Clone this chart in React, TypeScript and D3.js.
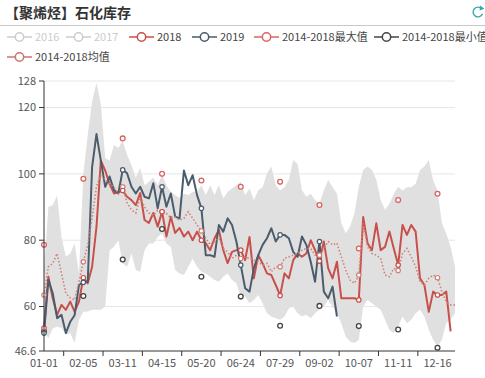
import React from "react";
import * as d3 from "d3";

// ---- data (index step = 35/9 days; label every 9 steps) ----
const xLabels = ["01-01", "02-05", "03-11", "04-15", "05-20", "06-24", "07-29", "09-02", "10-07", "11-11", "12-16"];
const yTicks = [46.6, 60, 80, 100, 120, 128];

const yr2018 = [
  53.5, 69, 62.5, 57.5, 60.5, 59, 61.5, 58.5, 61.5, 68.7,
  67, 72, 84, 104, 101, 97, 94.1, 94.5, 95, 93.1,
  92.1, 90.6, 94.2, 86.1, 85.2, 88.2, 84.1, 88.6, 81.1, 87.1,
  82.2, 83.7, 81.1, 82.6, 80, 82.6, 80, 79.1, 77, 80.6,
  83.1, 77, 73.1, 76.5, 77, 77, 74, 81, 68.5, 75.5,
  73, 70, 69.5, 66.5, 63.3, 70, 68.5, 74, 76, 75,
  76, 80, 77, 73.7, 79.6, 71.5, 68.5, 73.5, 62.5, 62.5,
  62.5, 62.5, 62, 87, 79.1, 77, 85.1, 77, 78, 82.6,
  77.5, 72.5, 84.6, 81.6, 84.6, 82.6, 68.5, 66.5, 58.4, 64.5,
  63.5, 63.5, 64.5, 52.5,
];

const yr2019 = [
  52, 68, 64, 56.5, 57.5, 52, 55.4, 57.4, 66.5, 67.3,
  67.5, 102, 112, 104, 96.1, 99.2, 95.1, 94.1, 101.2, 100.2,
  96.1, 94.1, 96.1, 93.1, 92.6, 97.2, 89.6, 96.1, 90.1, 94.1,
  87.1, 86.6, 101, 96.6, 99.6, 93.6, 89.6, 75.5, 75.5, 75,
  84.6, 82.6, 86.6, 84.6, 79.6, 72.5, 65.5, 64.5, 71.5, 75.5,
  78.6, 80.6, 83.6, 79.6, 81.6, 81.6, 80.6, 76.5, 75, 81.1,
  78.6, 73.5, 67.5, 79.6, 64.5, 62.5, 66, 57,
];

const meanVals = [
  63.5, 72, 73, 76, 70, 64, 62.6, 62, 67.5, 73.5,
  78.6, 86.6, 96.1, 100, 98.2, 97, 96, 94, 96.1, 91.2,
  89.2, 88.2, 93, 90, 88.2, 87.5, 89, 88.6, 88.1, 86.7,
  87, 86, 86.6, 88.6, 86.6, 84.6, 82.8, 80.6, 78.6, 79.6,
  80.6, 77.5, 76.5, 74.5, 75.5, 74.5, 75, 74.5, 74, 73.5,
  72.5, 73, 70.5, 72, 72, 74.5, 75, 75.5, 76, 77,
  77.5, 77.5, 75.5, 75.5, 77.5, 79.6, 78.6, 79.1, 75, 71,
  68, 67, 69.5, 85, 78, 76, 75.5, 74.5, 69.5, 69,
  71.5, 70.9, 76, 77.5, 75, 72, 67.5, 66.5, 68.5, 69.5,
  68.7, 64.5, 61.5, 60.5, 60.5,
];

const bandUpper = [
  71, 90, 90.6, 93.5, 81, 75, 76, 79, 70, 100,
  111.7, 121.8, 127.5, 121, 104.8, 104, 108.7, 107.8, 110, 105.7,
  102.7, 98.8, 101.8, 96.6, 97.6, 98.8, 96.6, 99.7, 96.6, 94.6,
  93.6, 92.7, 94, 93.6, 94.6, 94.6, 96.6, 93.6, 96.6, 93.6,
  96.6, 92.6, 94.6, 95.6, 96.6, 97.6, 93.6, 95.6, 92.1, 95.1,
  96, 100.2, 102.2, 96.6, 95.1, 96, 98.2, 104.2, 103, 95.1,
  93.1, 94, 92.1, 91.1, 95.1, 98.2, 96, 94.1, 85.1, 82.1,
  84.1, 88.1, 96.1, 101.2, 102.2, 101.2, 98.2, 92.1, 89.1, 91,
  94, 96.1, 95, 96, 96, 97, 101.2, 102.2, 104.2, 98,
  95, 85.1, 82, 78, 72,
];

const bandLower = [
  52, 50.5, 53.4, 54, 53.5, 51.5, 52, 49, 56, 58.4,
  58.5, 59, 59, 59, 60, 77, 78, 80, 73, 72,
  76, 71, 70.5, 77, 79, 79, 81, 82, 79, 78,
  71, 70, 69.5, 72, 74.5, 72, 70.5, 70, 69, 68,
  67.5, 69, 70, 68, 67, 63, 63, 61, 62, 63.5,
  61, 58, 57, 56.5, 56, 57, 59.5, 60, 58, 57,
  57.5, 56.5, 58, 59, 60, 62, 60, 58, 55, 51,
  49.5, 49, 50, 60, 62, 61, 60, 59, 56, 53,
  52, 54, 57, 55, 56, 58, 59, 57, 53, 50,
  48, 50, 55, 56, 58,
];

const maxMarks = [78.6, 98.5, 110.7, 100.0, 98.0, 96.1, 97.6, 90.6, 77.5, 92.1, 94.0];
const minMarks = [52.5, 63.2, 74.2, 83.4, 69.0, 63.0, 54.2, 60.2, 54.1, 53.1, 47.6];

const legendItems = [
  { name: "2016", color: "#cccccc", off: true, x: 7, row: 0 },
  { name: "2017", color: "#cccccc", off: true, x: 66, row: 0 },
  { name: "2018", color: "#c8504b", off: false, x: 129, row: 0 },
  { name: "2019", color: "#4b5c6d", off: false, x: 192, row: 0 },
  { name: "2014-2018最大值", color: "#d9645f", off: false, x: 254, row: 0 },
  { name: "2014-2018最小值", color: "#444444", off: false, x: 374, row: 0 },
  { name: "2014-2018均值", color: "#c9766c", off: false, x: 7, row: 1 },
];

const C2018 = "#c8504b";
const C2019 = "#4b5c6d";
const CMEAN = "#d08078";
const CMAX = "#d9645f";
const CMIN = "#444444";

const FONT = "'Microsoft YaHei','Noto Sans CJK SC','Noto Sans',sans-serif";

export default function App() {
  const W = 485, H = 378;
  const x = d3.scaleLinear().domain([0, 94]).range([44, 455]);
  const y = d3.scaleLinear().domain([46.6, 128]).range([351, 81]);

  const line = d3.line<number>().x((_, i) => x(i)).y((d) => y(d));
  const area = d3
    .area<number>()
    .x((_, i) => x(i))
    .y0((_, i) => y(bandLower[i]))
    .y1((d) => y(d));

  const markIdx = xLabels.map((_, k) => k * 9);
  const tickIdx = d3.range(10).map((k) => 4.5 + k * 9);
  const gridVals = [60, 80, 100, 120, 128];

  const arc = d3.arc()({ innerRadius: 4.2, outerRadius: 5.6, startAngle: 1.95, endAngle: 7.2 } as any) as string;

  return (
    <svg width={W} height={H} style={{ position: "absolute", left: 0, top: 0, background: "#fff" }} fontFamily={FONT}>
      {/* title */}
      <text x={5} y={18} fontSize={14} fontWeight="bold" fill="#333">【聚烯烃】石化库存</text>
      <line x1={0} x2={W} y1={25.5} y2={25.5} stroke="#c8c8c8" strokeWidth={1} />
      <g transform="translate(478,12)">
        <path d={arc} fill="#35a9a9" />
        <path d="M 2.2 -6.6 L 6.4 -3.2 L 1.6 -1.6 Z" fill="#35a9a9" />
      </g>

      {/* legend */}
      {legendItems.map((it) => {
        const cy = it.row === 0 ? 37 : 57;
        return (
          <g key={it.name}>
            <line x1={it.x} x2={it.x + 25} y1={cy} y2={cy} stroke={it.color} strokeWidth={1.5} />
            <circle cx={it.x + 12.5} cy={cy} r={4.2} fill="#fff" stroke={it.color} strokeWidth={1.5} />
            <text x={it.x + 28} y={cy} dy="0.35em" fontSize={11} fill={it.off ? "#cccccc" : "#444"}>{it.name}</text>
          </g>
        );
      })}

      {/* grid */}
      {gridVals.map((v) => (
        <line key={v} x1={44} x2={455} y1={y(v)} y2={y(v)} stroke="#e6e6e6" strokeWidth={1} />
      ))}

      {/* band */}
      <path d={area(bandUpper) as string} fill="#e0e0e0" />

      {/* lines */}
      <path d={line(yr2018) as string} fill="none" stroke={C2018} strokeWidth={2} strokeLinejoin="round" />
      <path d={line(yr2019) as string} fill="none" stroke={C2019} strokeWidth={2} strokeLinejoin="round" />
      <path d={line(meanVals) as string} fill="none" stroke={CMEAN} strokeWidth={1.6} strokeDasharray="1.5,2" />

      {/* markers */}
      {markIdx.map((i, k) => (
        <g key={"m" + i}>
          <circle cx={x(i)} cy={y(maxMarks[k])} r={2.4} fill="#fff" stroke={CMAX} strokeWidth={1.3} />
          <circle cx={x(i)} cy={y(minMarks[k])} r={2.4} fill="#fff" stroke={CMIN} strokeWidth={1.3} />
          <circle cx={x(i)} cy={y(meanVals[i])} r={2.2} fill="#fff" stroke={CMEAN} strokeWidth={1.2} />
          <circle cx={x(i)} cy={y(yr2018[i])} r={2.2} fill="#fff" stroke={C2018} strokeWidth={1.2} />
          {i < yr2019.length && (
            <circle cx={x(i)} cy={y(yr2019[i])} r={2.2} fill="#fff" stroke={C2019} strokeWidth={1.2} />
          )}
        </g>
      ))}

      {/* y axis */}
      <line x1={44} x2={44} y1={81} y2={351} stroke="#333" strokeWidth={1} />
      {yTicks.map((v) => (
        <g key={v}>
          <line x1={39} x2={44} y1={y(v)} y2={y(v)} stroke="#333" />
          <text x={36} y={y(v)} dy="0.35em" textAnchor="end" fontSize={11} fill="#555">{v}</text>
        </g>
      ))}

      {/* x axis */}
      <line x1={44} x2={455} y1={351} y2={351} stroke="#333" strokeWidth={1} />
      {tickIdx.map((t) => (
        <line key={t} x1={x(t)} x2={x(t)} y1={351} y2={356} stroke="#333" />
      ))}
      {xLabels.map((l, k) => (
        <text key={l} x={x(k * 9)} y={363} dy="0.35em" textAnchor="middle" fontSize={11} fill="#555">{l}</text>
      ))}
    </svg>
  );
}
